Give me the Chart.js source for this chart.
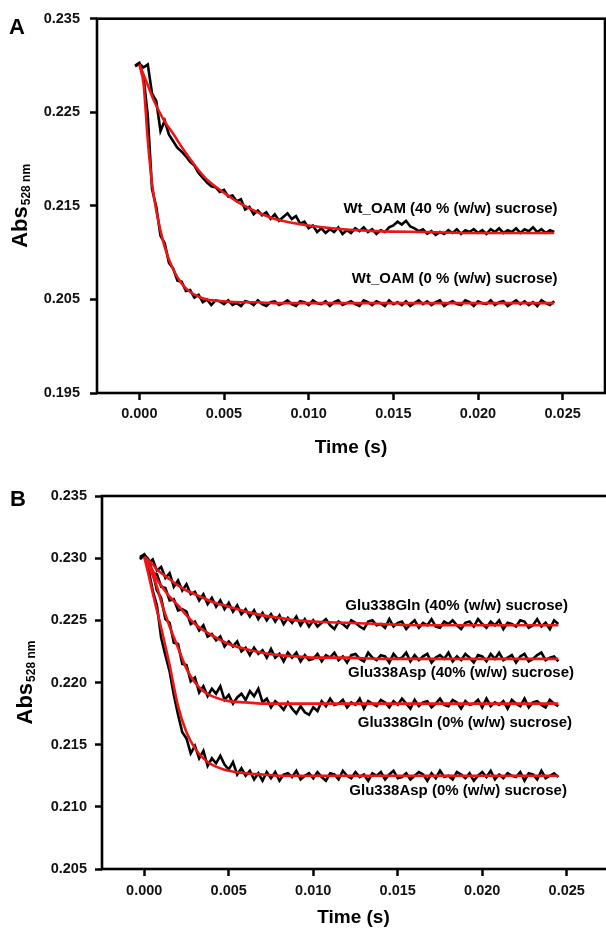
<!DOCTYPE html>
<html>
<head>
<meta charset="utf-8">
<script src="https://cdn.jsdelivr.net/npm/chart.js@4.4.1/dist/chart.umd.min.js"></script>
<style>
  html, body { margin: 0; padding: 0; background: #fff; overflow: hidden; }
  #wrap { position: relative; width: 606px; height: 928px; overflow: hidden; }
  #chartA { position: absolute; left: 0; top: 0; }
  #chartB { position: absolute; left: 0; top: 464px; }
</style>
</head>
<body>
<div id="wrap">
  <canvas id="chartA" width="606" height="464" style="width:606px;height:464px"></canvas>
  <canvas id="chartB" width="612" height="464" style="width:612px;height:464px"></canvas>
</div>
<script>
// sampling times of the stopped-flow traces (s)
var time = [
  -0.00025, 0, 0.00025, 0.0005, 0.00075, 0.001, 0.00125, 0.0015, 0.00175, 0.002,
  0.00225, 0.0025, 0.00275, 0.003, 0.00325, 0.0035, 0.00375, 0.004, 0.00425, 0.0045,
  0.00475, 0.005, 0.00525, 0.0055, 0.00575, 0.006, 0.00625, 0.0065, 0.00675, 0.007,
  0.00725, 0.0075, 0.00775, 0.008, 0.00825, 0.0085, 0.00875, 0.009, 0.00925, 0.0095,
  0.00975, 0.01, 0.01025, 0.0105, 0.01075, 0.011, 0.01125, 0.0115, 0.01175, 0.012,
  0.01225, 0.0125, 0.01275, 0.013, 0.01325, 0.0135, 0.01375, 0.014, 0.01425, 0.0145,
  0.01475, 0.015, 0.01525, 0.0155, 0.01575, 0.016, 0.01625, 0.0165, 0.01675, 0.017,
  0.01725, 0.0175, 0.01775, 0.018, 0.01825, 0.0185, 0.01875, 0.019, 0.01925, 0.0195,
  0.01975, 0.02, 0.02025, 0.0205, 0.02075, 0.021, 0.02125, 0.0215, 0.02175, 0.022,
  0.02225, 0.0225, 0.02275, 0.023, 0.02325, 0.0235, 0.02375, 0.024, 0.02425, 0.0245
];
// times of the fitted curves (s)
var fitTime = [0, 0.00025, 0.0005, 0.00075, 0.001, 0.0015, 0.002, 0.0025, 0.003, 0.0035, 0.004,
  0.005, 0.006, 0.007, 0.008, 0.009, 0.01, 0.012, 0.014, 0.017, 0.02, 0.0245];

// panel A: Wt_OAM
var wt40 = [
  0.2299, 0.2302, 0.2298, 0.2301, 0.2270, 0.2262, 0.2230, 0.2241, 0.2226, 0.2219,
  0.2212, 0.2208, 0.2203, 0.2197, 0.2193, 0.2185, 0.2180, 0.2175, 0.2171, 0.2170,
  0.2165, 0.2167, 0.2160, 0.2161, 0.2155, 0.2157, 0.2146, 0.2149, 0.2141, 0.2145,
  0.2140, 0.2143, 0.2136, 0.2141, 0.2134, 0.2138, 0.2142, 0.2136, 0.2139, 0.2131,
  0.2133, 0.2126, 0.2129, 0.2122, 0.2126, 0.2121, 0.2125, 0.2122, 0.2127, 0.2120,
  0.2124, 0.2121, 0.2126, 0.2123, 0.2127, 0.2122, 0.2125, 0.2120, 0.2124, 0.2122,
  0.2127, 0.2129, 0.2133, 0.2130, 0.2134, 0.2128, 0.2126, 0.2123, 0.2125, 0.2120,
  0.2123, 0.2119, 0.2122, 0.2120, 0.2124, 0.2121, 0.2125, 0.2120, 0.2124, 0.2122,
  0.2125, 0.2121, 0.2124, 0.2120, 0.2125, 0.2122, 0.2126, 0.2121, 0.2124, 0.2122,
  0.2126, 0.2121, 0.2125, 0.2123, 0.2127, 0.2122, 0.2125, 0.2121, 0.2124, 0.2122
];
var wt0 = [
  0.2300, 0.2303, 0.2288, 0.2246, 0.2168, 0.2149, 0.2118, 0.2110, 0.2089, 0.2083,
  0.2070, 0.2069, 0.2059, 0.2060, 0.2052, 0.2055, 0.2047, 0.2050, 0.2044, 0.2049,
  0.2048, 0.2045, 0.2049, 0.2044, 0.2046, 0.2043, 0.2048, 0.2047, 0.2044, 0.2049,
  0.2045, 0.2043, 0.2047, 0.2048, 0.2044, 0.2046, 0.2049, 0.2045, 0.2043, 0.2048,
  0.2047, 0.2044, 0.2049, 0.2046, 0.2045, 0.2048, 0.2043, 0.2047, 0.2049, 0.2044,
  0.2046, 0.2048, 0.2045, 0.2043, 0.2049, 0.2047, 0.2044, 0.2048, 0.2046, 0.2043,
  0.2049, 0.2045, 0.2047, 0.2044, 0.2048, 0.2043, 0.2046, 0.2049, 0.2045, 0.2048,
  0.2044, 0.2047, 0.2049, 0.2043, 0.2046, 0.2048, 0.2045, 0.2044, 0.2049, 0.2047,
  0.2043, 0.2048, 0.2046, 0.2045, 0.2049, 0.2044, 0.2047, 0.2048, 0.2043, 0.2046,
  0.2049, 0.2045, 0.2048, 0.2044, 0.2047, 0.2043, 0.2049, 0.2046, 0.2044, 0.2048
];
var wt40Fit = [0.2301, 0.2290, 0.2279, 0.2267, 0.2257, 0.2240, 0.2227, 0.2213, 0.2200, 0.2188, 0.2178,
  0.2164, 0.2152, 0.2143, 0.2136, 0.2132, 0.2129, 0.2125, 0.2123, 0.2122, 0.2121, 0.2121];
var wt0Fit = [0.2301, 0.2280, 0.2220, 0.2174, 0.2145, 0.2106, 0.2082, 0.2067, 0.2058, 0.2053, 0.2050,
  0.2048, 0.2047, 0.2047, 0.2046, 0.2046, 0.2046, 0.2046, 0.2046, 0.2046, 0.2046, 0.2046];

// panel B: mutants
var gln40 = [
  0.2300, 0.2302, 0.2296, 0.2299, 0.2290, 0.2293, 0.2284, 0.2288, 0.2277, 0.2282,
  0.2274, 0.2279, 0.2271, 0.2273, 0.2266, 0.2271, 0.2263, 0.2268, 0.2261, 0.2266,
  0.2259, 0.2264, 0.2257, 0.2262, 0.2255, 0.2259, 0.2253, 0.2258, 0.2251, 0.2256,
  0.2250, 0.2255, 0.2249, 0.2254, 0.2247, 0.2252, 0.2248, 0.2253, 0.2246, 0.2251,
  0.2245, 0.2250, 0.2245, 0.2248, 0.2251, 0.2246, 0.2243, 0.2249, 0.2247, 0.2244,
  0.2250, 0.2248, 0.2245, 0.2243, 0.2249, 0.2250, 0.2246, 0.2247, 0.2244, 0.2251,
  0.2245, 0.2248, 0.2249, 0.2243, 0.2247, 0.2250, 0.2244, 0.2248, 0.2246, 0.2251,
  0.2245, 0.2244, 0.2249, 0.2247, 0.2250, 0.2246, 0.2243, 0.2248, 0.2249, 0.2245,
  0.2251, 0.2247, 0.2244, 0.2249, 0.2246, 0.2250, 0.2243, 0.2248, 0.2247, 0.2245,
  0.2250, 0.2249, 0.2244, 0.2246, 0.2251, 0.2245, 0.2248, 0.2243, 0.2250, 0.2247
];
var asp40 = [
  0.2299, 0.2303, 0.2299, 0.2288, 0.2287, 0.2277, 0.2276, 0.2266, 0.2267, 0.2258,
  0.2259, 0.2257, 0.2247, 0.2249, 0.2242, 0.2246, 0.2237, 0.2239, 0.2234, 0.2237,
  0.2229, 0.2233, 0.2229, 0.2233, 0.2225, 0.2228, 0.2222, 0.2228, 0.2223, 0.2226,
  0.2220, 0.2227, 0.2220, 0.2223, 0.2217, 0.2224, 0.2220, 0.2224, 0.2217, 0.2222,
  0.2218, 0.2219, 0.2223, 0.2217, 0.2222, 0.2220, 0.2224, 0.2218, 0.2221, 0.2216,
  0.2222, 0.2223, 0.2219, 0.2217, 0.2224, 0.2220, 0.2218, 0.2222, 0.2221, 0.2216,
  0.2223, 0.2219, 0.2220, 0.2224, 0.2217, 0.2222, 0.2218, 0.2221, 0.2223, 0.2216,
  0.2220, 0.2222, 0.2219, 0.2224, 0.2217, 0.2221, 0.2218, 0.2223, 0.2220, 0.2216,
  0.2222, 0.2221, 0.2217, 0.2223, 0.2219, 0.2224, 0.2218, 0.2220, 0.2222, 0.2216,
  0.2221, 0.2223, 0.2217, 0.2219, 0.2222, 0.2224, 0.2218, 0.2220, 0.2221, 0.2217
];
var gln0 = [
  0.2300, 0.2302, 0.2293, 0.2289, 0.2274, 0.2268, 0.2251, 0.2248, 0.2232, 0.2231,
  0.2215, 0.2214, 0.2201, 0.2204, 0.2192, 0.2197, 0.2189, 0.2195, 0.2191, 0.2197,
  0.2186, 0.2190, 0.2183, 0.2188, 0.2191, 0.2186, 0.2193, 0.2189, 0.2195, 0.2184,
  0.2187, 0.2180, 0.2185, 0.2182, 0.2178, 0.2184, 0.2179, 0.2175, 0.2181, 0.2176,
  0.2174, 0.2180, 0.2177, 0.2185, 0.2181, 0.2187, 0.2182, 0.2183, 0.2186, 0.2180,
  0.2184, 0.2182, 0.2187, 0.2179, 0.2185, 0.2183, 0.2181, 0.2186, 0.2184, 0.2180,
  0.2185, 0.2182, 0.2187, 0.2183, 0.2179, 0.2186, 0.2181, 0.2184, 0.2185, 0.2180,
  0.2183, 0.2187, 0.2182, 0.2181, 0.2186, 0.2184, 0.2179, 0.2185, 0.2182, 0.2183,
  0.2186, 0.2180, 0.2187, 0.2181, 0.2184, 0.2182, 0.2185, 0.2179, 0.2186, 0.2183,
  0.2181, 0.2187, 0.2180, 0.2184, 0.2185, 0.2182, 0.2180, 0.2186, 0.2183, 0.2181
];
var asp0 = [
  0.2301, 0.2303, 0.2291, 0.2274, 0.2262, 0.2236, 0.2222, 0.2209, 0.2190, 0.2174,
  0.2160, 0.2155, 0.2143, 0.2149, 0.2139, 0.2145, 0.2133, 0.2139, 0.2135, 0.2141,
  0.2134, 0.2130, 0.2136, 0.2126, 0.2131, 0.2125, 0.2129, 0.2122, 0.2127, 0.2121,
  0.2128, 0.2123, 0.2128, 0.2121, 0.2126, 0.2127, 0.2124, 0.2129, 0.2122, 0.2125,
  0.2127, 0.2123, 0.2128, 0.2124, 0.2121, 0.2127, 0.2126, 0.2122, 0.2129, 0.2125,
  0.2123, 0.2128, 0.2124, 0.2126, 0.2121, 0.2127, 0.2125, 0.2128, 0.2122, 0.2126,
  0.2129, 0.2123, 0.2124, 0.2127, 0.2122, 0.2125, 0.2128, 0.2126, 0.2121, 0.2127,
  0.2123, 0.2129, 0.2124, 0.2125, 0.2122, 0.2128, 0.2126, 0.2123, 0.2127, 0.2121,
  0.2125, 0.2128, 0.2124, 0.2129, 0.2122, 0.2126, 0.2123, 0.2127, 0.2125, 0.2124,
  0.2128, 0.2121, 0.2127, 0.2126, 0.2122, 0.2129, 0.2123, 0.2125, 0.2127, 0.2124
];
var gln40Fit = [0.2301, 0.2298, 0.2295, 0.2291, 0.2288, 0.2283, 0.2278, 0.2274, 0.2271, 0.2268, 0.2265,
  0.2261, 0.2257, 0.2254, 0.2252, 0.2250, 0.2249, 0.2248, 0.2247, 0.2246, 0.2246, 0.2246];
var asp40Fit = [0.2301, 0.2296, 0.2290, 0.2283, 0.2278, 0.2269, 0.2262, 0.2254, 0.2247, 0.2242, 0.2238,
  0.2231, 0.2227, 0.2224, 0.2222, 0.2221, 0.2220, 0.2220, 0.2219, 0.2219, 0.2219, 0.2219];
var gln0Fit = [0.2301, 0.2294, 0.2286, 0.2277, 0.2265, 0.2245, 0.2228, 0.2211, 0.2200, 0.2193, 0.2189,
  0.2185, 0.2184, 0.2183, 0.2183, 0.2183, 0.2183, 0.2183, 0.2183, 0.2183, 0.2183, 0.2183];
var asp0Fit = [0.2301, 0.2287, 0.2272, 0.2258, 0.2244, 0.2214, 0.2181, 0.2160, 0.2147, 0.2139, 0.2134,
  0.2129, 0.2127, 0.2126, 0.2125, 0.2125, 0.2125, 0.2125, 0.2125, 0.2125, 0.2125, 0.2125];

var xTicks = [0, 0.005, 0.01, 0.015, 0.02, 0.025];
var yTicksA = [0.195, 0.205, 0.215, 0.225, 0.235];
var yTicksB = [0.205, 0.21, 0.215, 0.22, 0.225, 0.23, 0.235];
var namesA = ['Wt_OAM (40 % (w/w) sucrose)', 'Wt_OAM (0 % (w/w) sucrose)'];
var namesB = ['Glu338Gln (40% (w/w) sucrose)', 'Glu338Asp (40% (w/w) sucrose)',
  'Glu338Gln (0% (w/w) sucrose)', 'Glu338Asp (0% (w/w) sucrose)'];
var xTitle = 'Time (s)';
var yTitle = 'Abs';
var yTitleSub = '528 nm';

var FONT = '"Liberation Sans", Arial, sans-serif';
var RED = '#ee1515';

function pts(xs, ys) {
  return ys.map(function (v, i) { return { x: xs[i], y: v }; });
}
function trace(name, ys) {
  return { label: name, data: pts(time, ys), borderColor: '#000', borderWidth: 2.6, order: 1 };
}
function fit(name, ys) {
  return { label: name + ' fit', data: pts(fitTime, ys), borderColor: RED, borderWidth: 2.6,
    cubicInterpolationMode: 'monotone', order: 0 };
}

// frame, panel letter, axis titles and series labels
var decor = {
  id: 'decor',
  afterDraw: function (chart, args, o) {
    var ctx = chart.ctx, a = chart.chartArea;
    var xs = chart.scales.x, ys = chart.scales.y;
    ctx.save();
    ctx.strokeStyle = '#000';
    ctx.lineWidth = 2.6;
    ctx.strokeRect(a.left, a.top, a.right - a.left, a.bottom - a.top);
    ctx.fillStyle = '#000';

    ctx.font = 'bold 22px ' + FONT;
    ctx.textAlign = 'left';
    ctx.textBaseline = 'alphabetic';
    ctx.fillText(o.letter, o.letterX, o.letterY);

    ctx.font = 'bold 19px ' + FONT;
    ctx.textAlign = 'center';
    ctx.textBaseline = 'middle';
    ctx.fillText(xTitle, (a.left + a.right) / 2 + o.xTitleDx, a.bottom + o.xTitleDy);

    // rotated Abs with subscript
    ctx.save();
    ctx.translate(o.yTitleX, (a.top + a.bottom) / 2);
    ctx.rotate(-Math.PI / 2);
    ctx.textAlign = 'left';
    ctx.textBaseline = 'alphabetic';
    ctx.font = 'bold 22px ' + FONT;
    var w1 = ctx.measureText(yTitle).width;
    ctx.font = 'bold 12px ' + FONT;
    var w2 = ctx.measureText(yTitleSub).width;
    var x0 = -(w1 + 1 + w2) / 2;
    ctx.font = 'bold 22px ' + FONT;
    ctx.fillText(yTitle, x0, 8);
    ctx.font = 'bold 12px ' + FONT;
    ctx.fillText(yTitleSub, x0 + w1 + 1, 11);
    ctx.restore();

    ctx.font = 'bold ' + o.labelSize + 'px ' + FONT;
    ctx.textAlign = 'right';
    ctx.textBaseline = 'middle';
    o.labels.forEach(function (txt, i) {
      var p = o.labelAt[i];
      ctx.fillText(txt, xs.getPixelForValue(p[0]), ys.getPixelForValue(p[1]));
    });
    ctx.restore();
  }
};

function makeChart(id, datasets, yTicks, g, d) {
  return new Chart(document.getElementById(id), {
    type: 'line',
    data: { datasets: datasets },
    plugins: [decor],
    options: {
      responsive: false,
      devicePixelRatio: 1,
      animation: false,
      layout: { padding: { left: 0, top: g.top, right: g.right, bottom: 0 } },
      elements: { point: { radius: 0 }, line: { tension: 0 } },
      plugins: { legend: { display: false }, tooltip: { enabled: false }, decor: d },
      scales: {
        x: {
          type: 'linear', min: -0.0025, max: 0.0275,
          afterBuildTicks: function (s) { s.ticks = xTicks.map(function (v) { return { value: v }; }); },
          afterFit: function (s) { s.height = g.xHeight; },
          grid: { drawOnChartArea: false, drawTicks: true, tickLength: 7, tickWidth: 2.5, tickColor: '#000' },
          border: { display: false },
          ticks: { padding: g.xPad, color: '#111', maxRotation: 0,
            font: { family: FONT, size: 14.5, weight: 'bold' },
            callback: function (v) { return v.toFixed(3); } }
        },
        y: {
          type: 'linear', min: yTicks[0], max: yTicks[yTicks.length - 1],
          afterBuildTicks: function (s) { s.ticks = yTicks.map(function (v) { return { value: v }; }); },
          afterFit: function (s) { s.width = g.left; },
          grid: { drawOnChartArea: false, drawTicks: true, tickLength: 7, tickWidth: 2.5, tickColor: '#000' },
          border: { display: false },
          ticks: { padding: g.yPad, color: '#111',
            font: { family: FONT, size: 14.5, weight: 'bold' },
            callback: function (v) { return v.toFixed(3); } }
        }
      }
    }
  });
}

makeChart('chartA', [
  fit(namesA[0], wt40Fit), fit(namesA[1], wt0Fit),
  trace(namesA[0], wt40), trace(namesA[1], wt0)
], yTicksA,
  { left: 97, top: 18, right: 1, xHeight: 71, xPad: 5, yPad: 10 },
  { letter: 'A', letterX: 9, letterY: 34, xTitleDx: 0, xTitleDy: 55, yTitleX: 18.5,
    labelSize: 15, labels: namesA, labelAt: [[0.0247, 0.2147], [0.0247, 0.20716]] });

makeChart('chartB', [
  fit(namesB[0], gln40Fit), fit(namesB[1], asp40Fit), fit(namesB[2], gln0Fit), fit(namesB[3], asp0Fit),
  trace(namesB[0], gln40), trace(namesB[1], asp40), trace(namesB[2], gln0), trace(namesB[3], asp0)
], yTicksB,
  { left: 102, top: 32, right: 3, xHeight: 59, xPad: 6, yPad: 8 },
  { letter: 'B', letterX: 10, letterY: 42, xTitleDx: -2, xTitleDy: 49, yTitleX: 24,
    labelSize: 15, labels: namesB,
    labelAt: [[0.02507, 0.22615], [0.02543, 0.22076], [0.02531, 0.21674], [0.02501, 0.21127]] });
</script>
</body>
</html>
